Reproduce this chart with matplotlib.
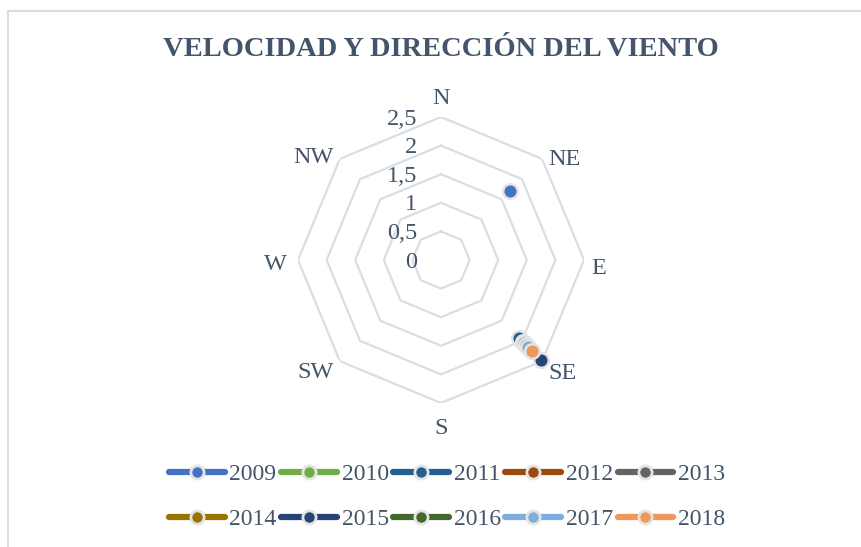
import numpy as np
import matplotlib.pyplot as plt
from matplotlib.patches import Rectangle

directions = ['N', 'NE', 'E', 'SE', 'S', 'SW', 'W', 'NW']
years = ['2009', '2010', '2011', '2012', '2013', '2014', '2015', '2016', '2017', '2018']
year_direction = ['NE', 'SE', 'SE', 'SE', 'SE', 'SE', 'SE', 'SE', 'SE', 'SE']
year_speed = [1.70, 1.95, 1.92, 2.02, 2.05, 2.10, 2.47, 2.20, 2.14, 2.25]
ring_values = [0.5, 1, 1.5, 2, 2.5]
ring_labels = ['0', '0,5', '1', '1,5', '2', '2,5']

colors = ['#4472C4', '#70AD47', '#255E91', '#9E480E', '#636363',
          '#997300', '#264478', '#43682B', '#7CAFDD', '#F1975A']
text_color = '#44546A'
grid_color = '#D9DEE6'
# pixel offset of each direction label from its outer vertex (x right, y down)
label_offsets = [(0, -19), (22, 1), (15, 9), (20, 12), (0, 25), (-24, 11), (-23, 5), (-26, -1)]

W, H = 861, 547
fig = plt.figure(figsize=(W / 100, H / 100), dpi=100)
plt.rcParams['font.family'] = ['Liberation Serif', 'DejaVu Serif']

# chart border (only top and left are inside the picture)
fig.patches.append(Rectangle((8 / W, -0.1), 1.1, (H - 11) / H + 0.1, transform=fig.transFigure,
                             fill=False, edgecolor='#D9DDE3', lw=1.5))

cx, cy, rad = 441, 260, 143
ax = fig.add_axes([(cx - rad) / W, (H - cy - rad) / H, 2 * rad / W, 2 * rad / H], projection='polar')
ax.set_theta_zero_location('N')
ax.set_theta_direction(-1)
ax.set_ylim(0, 2.5)
ax.set_xticks([])
ax.set_yticks([])
ax.grid(False)
ax.spines['polar'].set_visible(False)
ax.patch.set_alpha(0)

angles = np.deg2rad(np.arange(len(directions)) * 45)
closed = np.append(angles, angles[0])
for r in ring_values:
    ax.plot(closed, [r] * len(closed), color=grid_color, lw=1.6, zorder=1)

for a, d, (dx, dy) in zip(angles, directions, label_offsets):
    ax.annotate(d, xy=(a, 2.5), xytext=(dx * 0.72, -dy * 0.72), textcoords='offset points',
                ha='center', va='center', fontsize=17.5, color=text_color)

for i, lab in enumerate(ring_labels):
    ax.annotate(lab, xy=(0, i * 0.5), xytext=(-17, -1.5), textcoords='offset points',
                ha='right', va='center', fontsize=17.5, color=text_color)

handles = []
for y, d, v, c in zip(years, year_direction, year_speed, colors):
    th = angles[directions.index(d)]
    ln, = ax.plot([th], [v], color=c, lw=4.5, marker='o', markersize=10.5,
                  markeredgecolor='#E4E4E4', markeredgewidth=1.8, solid_capstyle='round',
                  zorder=3, clip_on=False, label=y)
    handles.append(ln)

fig.text(441 / W, 1 - 49 / H, 'VELOCIDAD Y DIRECCIÓN DEL VIENTO', ha='center', va='center',
         fontsize=20.5, fontweight='bold', color=text_color)

# legend fills by column, so interleave to get row order
ncol = 5
order = [h for pair in zip(handles[:ncol], handles[ncol:]) for h in pair]
leg = fig.legend(handles=order, loc='center', bbox_to_anchor=(447 / W, 1 - 497 / H), ncol=ncol,
                 frameon=False, fontsize=17, handlelength=2.35, handletextpad=0.2,
                 columnspacing=0.2, labelspacing=1.0, borderpad=0)
for t in leg.get_texts():
    t.set_color(text_color)
for h in leg.legend_handles:
    h.set_markersize(9.5)
    h.set_markeredgewidth(2)

fig.savefig('out.png', dpi=100)
